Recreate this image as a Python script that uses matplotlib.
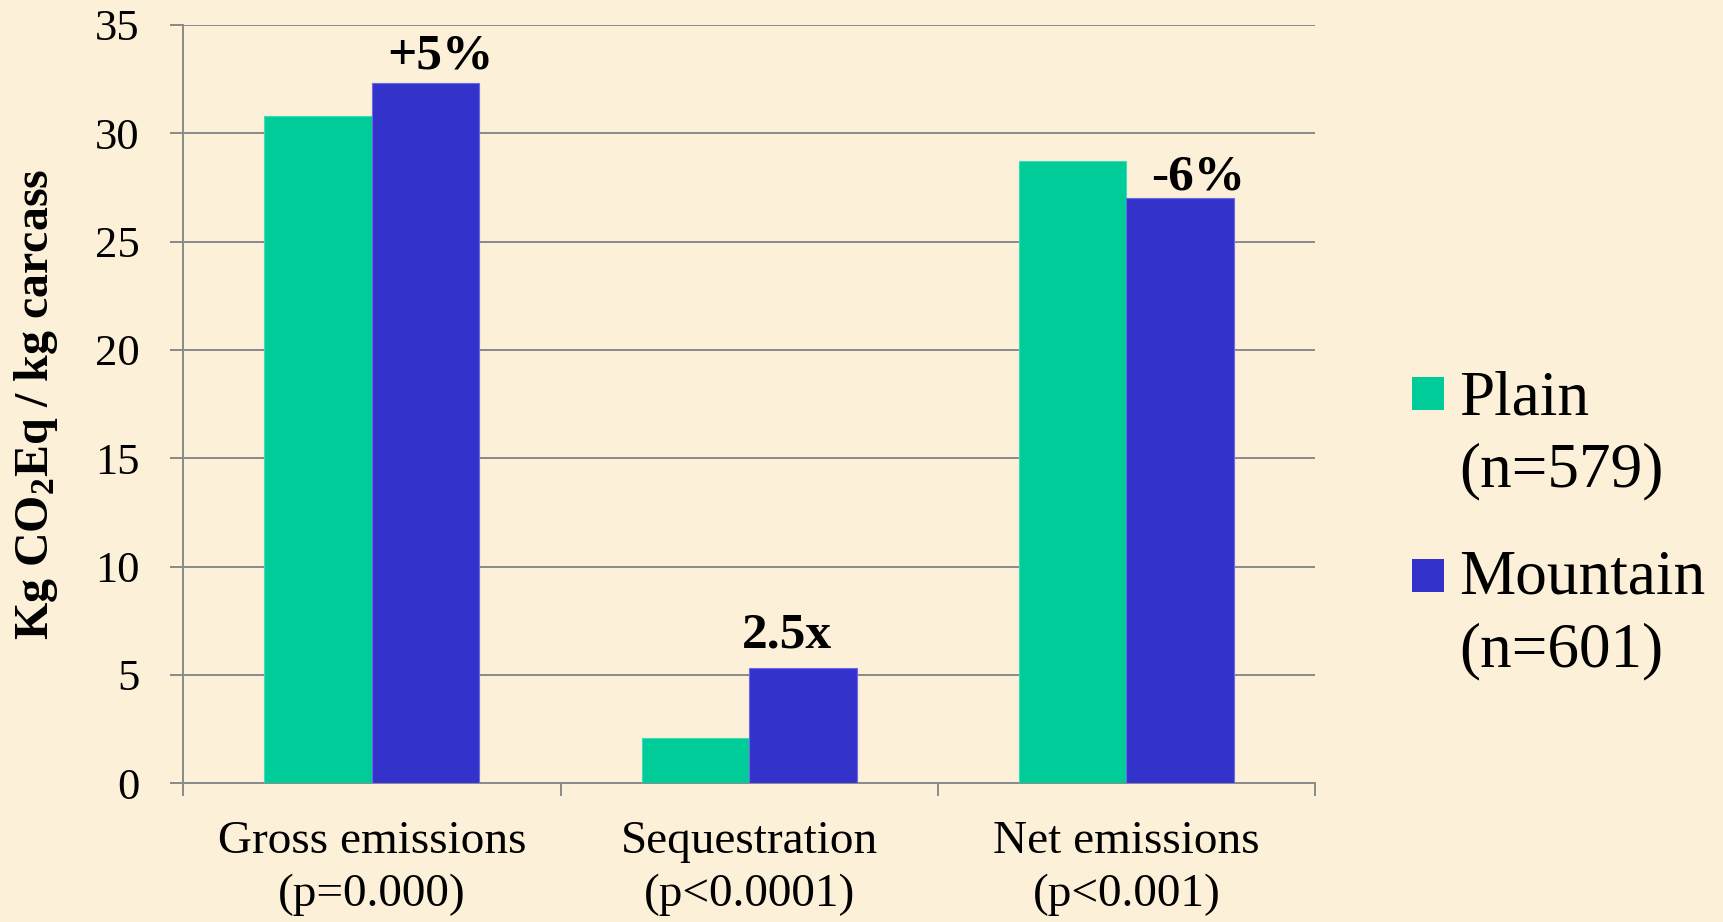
import matplotlib
matplotlib.use("Agg")
import matplotlib.pyplot as plt
from matplotlib.patches import Rectangle
import numpy as np

# ---- data ----
categories = ["Gross emissions\n(p=0.000)", "Sequestration\n(p<0.0001)", "Net emissions\n(p<0.001)"]
plain_values = [30.8, 2.1, 28.7]
mountain_values = [32.3, 5.3, 27.0]
series_names = ["Plain", "Mountain"]
series_counts = ["(n=579)", "(n=601)"]
change_labels = ["+5%", "2.5x", "-6%"]
y_ticks = [0, 5, 10, 15, 20, 25, 30, 35]

# ---- style ----
bg = "#FCF0D8"
plain_color = "#00CC99"
mountain_color = "#3333CC"
grid_color = "#8A8A8A"
serif = "Liberation Serif"

plt.rcParams["font.family"] = serif
plt.rcParams["mathtext.fontset"] = "custom"
plt.rcParams["mathtext.rm"] = "Liberation Serif:bold"
plt.rcParams["mathtext.bf"] = "Liberation Serif:bold"
plt.rcParams["mathtext.it"] = "Liberation Serif:bold"

fig = plt.figure(figsize=(17.23, 9.22), dpi=100, facecolor=bg)
ax = fig.add_axes([0.1064, 0.1504, 0.7632 - 0.1064, 0.9729 - 0.1504])
ax.set_facecolor("none")

x = np.arange(len(categories))
w = 0.285
bars_plain = ax.bar(x - w / 2, plain_values, w, color=plain_color,
                    edgecolor="#3fdcb5", linewidth=0.8, zorder=3)
bars_mountain = ax.bar(x + w / 2, mountain_values, w, color=mountain_color,
                       edgecolor="#6a6ae6", linewidth=0.8, zorder=3)

ax.set_xlim(-0.5, 2.5)
ax.set_ylim(0, 35)

# axes, grid and ticks
for side in ["top", "right"]:
    ax.spines[side].set_visible(False)
for side in ["left", "bottom"]:
    ax.spines[side].set_color(grid_color)
    ax.spines[side].set_linewidth(1.4)
ax.set_axisbelow(True)
ax.yaxis.grid(True, color=grid_color, linewidth=1.4)

ax.set_yticks(y_ticks)
ax.set_yticklabels([str(t) for t in y_ticks])
ax.tick_params(axis="y", direction="out", length=9.4, width=1.4, color=grid_color,
               pad=22, labelsize=32)

ax.set_xticks(x)
ax.set_xticklabels(categories, fontsize=34, linespacing=1.32)
ax.tick_params(axis="x", which="major", length=0, pad=27)
ax.set_xticks([-0.5, 0.5, 1.5, 2.5], minor=True)
ax.tick_params(axis="x", which="minor", direction="out", length=9.4, width=1.4,
               color=grid_color)

ax.set_ylabel("Kg CO$_2$Eq / kg carcass", fontsize=34.5, fontweight="bold")
ax.yaxis.set_label_coords(-0.109, 0.5)

# change labels above the mountain bars
offsets = [(10.8, 10.6), (-11.5, 15.1), (13.0, 6.0)]
for bar, label, (dx, dy) in zip(bars_mountain, change_labels, offsets):
    ax.annotate(label, xy=(bar.get_x() + bar.get_width() / 2, bar.get_height()),
                xytext=(dx, dy), textcoords="offset points",
                ha="center", va="baseline", fontsize=37, fontweight="bold")

# legend drawn at the right of the plot
sq_w, sq_h = 32.3 / 1723, 32.7 / 922
legend_rows = [
    (plain_color, 1 - 410 / 922, [1 - 414.3 / 922, 1 - 486.7 / 922]),
    (mountain_color, 1 - 591.7 / 922, [1 - 593.3 / 922, 1 - 666 / 922]),
]
for (color, y0, baselines), name, count in zip(legend_rows, series_names, series_counts):
    fig.add_artist(Rectangle((1411.7 / 1723, y0), sq_w, sq_h, transform=fig.transFigure,
                             facecolor=color, edgecolor="none"))
    fig.text(1459.3 / 1723, baselines[0], name, fontsize=45.5, va="baseline", ha="left")
    fig.text(1459.3 / 1723, baselines[1], count, fontsize=45.5, va="baseline", ha="left")

fig.savefig("out.png", dpi=100, facecolor=bg)
